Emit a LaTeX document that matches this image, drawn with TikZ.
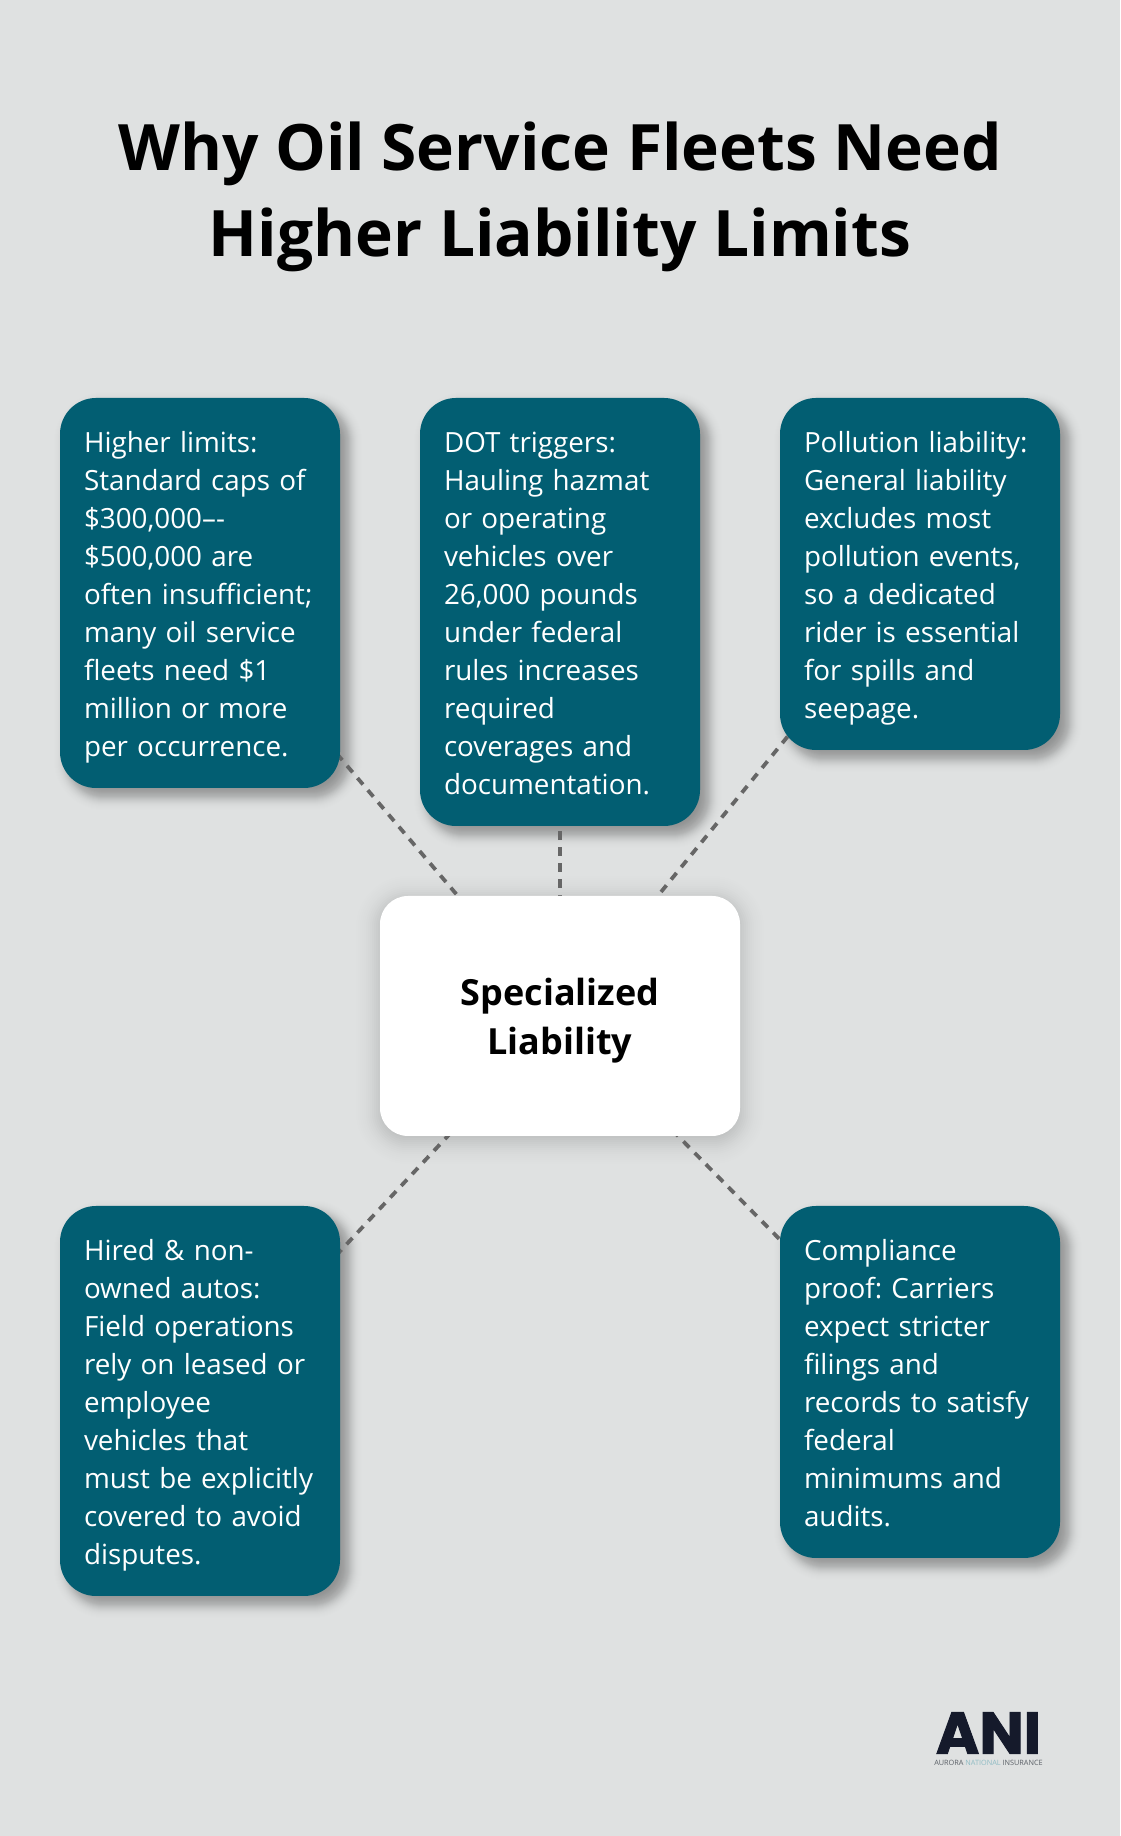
\documentclass[tikz,border=0pt]{standalone}
\usepackage{fontspec}
\setmainfont{Open Sans}
\newfontfamily\logofont{Poppins}[BoldFeatures={FakeBold=1.6}]
\usetikzlibrary{positioning,calc,backgrounds}
\definecolor{pagebg}{HTML}{DFE1E1}
\definecolor{tealbox}{HTML}{025E72}
\definecolor{dashgrey}{HTML}{666666}
\definecolor{logoink}{HTML}{151A2B}
\definecolor{logoteal}{HTML}{8FBCC4}
\definecolor{logogrey}{HTML}{5A5F66}
\newcommand{\boxstrut}{\rule[-7.1pt]{0pt}{38pt}}
\newcommand{\hubstrut}{\rule[-10.5pt]{0pt}{49pt}}
\newcommand{\softshadow}[6]{% node, corner, xshift, yshift, spread, opacity
    \foreach \e in {-20,...,20} {
        \pgfmathsetmacro{\grow}{\e*#5}
        \pgfmathsetmacro{\rad}{max(#2+\grow,1)}
        \pgfmathsetmacro{\layer}{#6*exp(-\e*\e/80)}
        \fill [black, opacity=\layer, rounded corners=\rad pt] ($(#1.south west)+(#3pt-\grow pt,#4pt-\grow pt)$) rectangle ($(#1.north east)+(#3pt+\grow pt,#4pt+\grow pt)$);
    }
}
\tikzstyle{infobox} = [rectangle, rounded corners=36pt, minimum width=280pt, text width=232pt, inner xsep=24pt, inner ysep=24pt, align=left, fill=tealbox, text=white, font=\fontsize{27.8}{38}\selectfont\frenchspacing, execute at begin node=\boxstrut, execute at end node=\boxstrut]
\tikzstyle{hubbox} = [rectangle, rounded corners=28pt, minimum width=360pt, minimum height=240pt, text width=312pt, inner xsep=24pt, inner ysep=0pt, align=center, fill=white, text=black, font=\fontsize{36}{49}\selectfont\bfseries, execute at begin node=\hubstrut, execute at end node=\hubstrut]
\tikzstyle{arrow} = [line width=3.8pt, dashgrey, dash pattern=on 8.5pt off 7.5pt]

\begin{document}
\begin{tikzpicture}[node distance=360pt]
    \useasboundingbox (0,0) rectangle (1120pt,1836pt);
    % Title
    \node (title) [align=center, font=\fontsize{64}{86}\selectfont\bfseries] at (560pt,1639pt) {Why Oil Service Fleets Need\\Higher Liability Limits};

    % Nodes
    \node (limits) [infobox] at (200pt,1243pt) {Higher limits:\\Standard caps of\\\$300,000–-\\\$500,000 are\\often insufficient;\\many oil service\\fleets need \$1\\million or more\\per occurrence.};
    \node (triggers) [infobox, right of=limits, yshift=-19pt] {DOT triggers:\\Hauling hazmat\\or operating\\vehicles over\\26,000 pounds\\under federal\\rules increases\\required\\coverages and\\documentation.};
    \node (pollution) [infobox, right of=triggers, yshift=38pt] {Pollution liability:\\General liability\\excludes most\\pollution events,\\so a dedicated\\rider is essential\\for spills and\\seepage.};
    \node (hub) [hubbox, below of=triggers, yshift=-44pt] {Specialized\\Liability};
    \node (autos) [infobox, left of=hub, yshift=-385pt] {Hired \& non-\\owned autos:\\Field operations\\rely on leased or\\employee\\vehicles that\\must be explicitly\\covered to avoid\\disputes.};
    \node (proof) [infobox, right of=hub, yshift=-366pt] {Compliance\\proof: Carriers\\expect stricter\\filings and\\records to satisfy\\federal\\minimums and\\audits.};

    % Logo
    \node (logo) [inner sep=0pt, text=logoink, font=\logofont\fontsize{59}{59}\selectfont\bfseries] at (988.5pt,103pt) {ANI};
    \node (logotext) [inner sep=0pt, below=6pt of logo, font=\fontsize{7.3}{8}\selectfont, text=logogrey] {AURORA \textcolor{logoteal}{NATIONAL} INSURANCE};

    % Arrows
    \begin{scope}[on background layer]
        \fill [pagebg] (0,0) rectangle (1120pt,1836pt);
        \foreach \target in {limits,triggers,pollution,autos,proof}
            \softshadow{\target}{36}{8}{-8}{1}{0.024};
        \softshadow{hub}{28}{0}{-4}{2}{0.012};
        \foreach \target in {limits,triggers,pollution,autos,proof}
            \draw [arrow] (hub.center) -- (\target.center);
    \end{scope}
\end{tikzpicture}
\end{document}
